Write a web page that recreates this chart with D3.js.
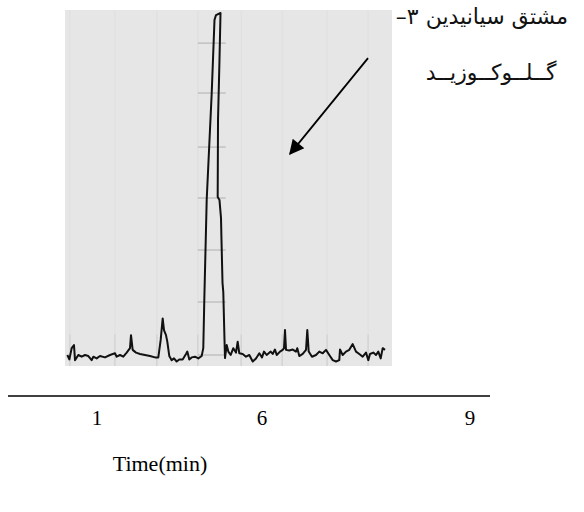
<!DOCTYPE html>
<html>
<head>
<meta charset="utf-8">
<script src="https://cdn.jsdelivr.net/npm/d3@7/dist/d3.min.js"></script>
<style>
  html, body { margin: 0; padding: 0; background: #fff; }
  svg { display: block; }
</style>
</head>
<body>
<svg id="chart" width="584" height="512"></svg>
<script>
// ---------------- data ----------------
// chromatogram trace: time (min) and relative signal (%)
const traceTime = [
  0.071,0.132,0.204,0.274,0.305,0.406,0.508,0.610,0.711,0.813,0.864,0.965,1.067,1.220,1.372,1.524,1.575,1.677,1.778,1.880,
  1.982,2.012,2.063,2.165,2.287,2.439,2.591,2.744,2.845,2.917,2.978,3.018,3.079,3.119,3.180,3.252,3.323,3.404,3.485,3.587,
  3.689,3.729,3.790,3.862,3.963,4.065,4.167,4.216,
  4.247,4.320,4.473,4.558,4.604,4.741,
  4.710,4.665,4.655,4.710,4.756,4.771,4.802,4.826,4.863,4.878,
  4.930,4.979,5.052,5.131,5.213,5.265,5.314,5.418,5.518,5.619,5.723,5.823,5.924,6.006,6.067,6.149,6.271,6.332,6.402,6.454,
  6.555,6.637,6.677,6.707,6.738,6.838,6.942,7.043,7.082,7.143,7.247,7.348,7.387,7.430,7.530,7.652,7.753,7.857,7.957,8.058,
  8.162,8.262,8.363,8.384,8.466,8.567,8.668,8.771,8.872,8.973,9.076,9.177,9.247,9.299,9.399,9.482,9.552,9.625,9.686,9.756
];
const traceSignal = [
  0,-1.3,2.0,2.9,-1.5,0,-0.5,0,-0.3,-1.5,-0.5,-1.0,-0.3,-0.7,0,0.5,-0.5,0,-0.5,0.7,
  2.0,5.8,1.5,0.7,0.3,0,-0.3,-0.7,-0.7,4.4,10.7,7.3,5.8,3.9,-0.3,-1.5,-1.0,-1.9,-1.3,-1.3,
  0.3,1.0,-1.3,-0.7,-0.5,-1.0,-0.3,2.0,
  16.1,45.3,76.6,98.0,99.4,100,
  86.3,68.7,46.2,45.3,40.1,33.6,21.1,18.4,4.4,-0.9,
  2.9,1.0,0,2.0,0.7,3.9,0.5,0.3,-0.5,0,-1.9,-1.0,0.5,-0.7,1.0,0,1.0,0.3,1.6,0,
  1.0,1.5,2.0,7.3,1.5,1.3,1.6,1.0,2.0,-0.3,0.3,1.5,7.3,1.0,-0.5,0,1.0,0.5,1.5,0,
  -1.5,-1.9,-1.5,1.6,0,1.0,1.5,3.2,1.0,0.3,-0.5,0.7,-1.5,0.3,0.7,0,1.0,-1.0,2.0,1.5
];
// chart-paper grid: vertical rulings (min) and crosshair levels (%)
const paperRulings = [0.15,1.52,2.80,4.05,5.37,6.62,7.99,9.24];
const crossLevels = [0,15.5,30.7,45.9,60.8,76.6,91.2];
// axis tick labels
const tickLabels = ["1","6","9"];
const tickValues = [1,6,9];
const axisTitle = "Time(min)";
// annotation
const annotLine1 = "مشتق سیانیدین ۳–";
const annotLine2 = "گــلــوکــوزیــد";
const arrowFrom = [9.238, 86.8];
const arrowTo = [6.860, 58.8];

// ---------------- drawing ----------------
const svg = d3.select("#chart");
const plot = {x0: 65, x1: 392, y0: 10, y1: 366};

const x = d3.scaleLinear().domain([0, 10]).range([plot.x0, plot.x0 + 328]);
const y = d3.scaleLinear().domain([0, 100]).range([355, 13]);

// background panel
svg.append("rect")
  .attr("x", plot.x0).attr("y", plot.y0)
  .attr("width", plot.x1 - plot.x0).attr("height", plot.y1 - plot.y0)
  .attr("fill", "#e6e6e6");

// faint vertical rulings
svg.append("g").selectAll("line").data(paperRulings).join("line")
  .attr("x1", d => x(d)).attr("x2", d => x(d))
  .attr("y1", plot.y0).attr("y2", plot.y1)
  .attr("stroke", "#e0e0e0").attr("stroke-width", 1.2);
svg.append("g").selectAll("line").data(paperRulings).join("line")
  .attr("x1", d => x(d)).attr("x2", d => x(d))
  .attr("y1", y(6)).attr("y2", plot.y1)
  .attr("stroke", "#d0d0d0").attr("stroke-width", 1.2);

// crosshair marks along the peak
svg.append("g").selectAll("line").data(crossLevels).join("line")
  .attr("x1", x(4.05)).attr("x2", x(4.9))
  .attr("y1", d => y(d)).attr("y2", d => y(d))
  .attr("stroke", "#b8b8b8").attr("stroke-width", 1.2);

// trace
const pts = traceTime.map((t, i) => [t, traceSignal[i]]);
const line = d3.line().x(d => x(d[0])).y(d => y(d[1])).curve(d3.curveLinear);
svg.append("path")
  .attr("d", line(pts))
  .attr("fill", "none")
  .attr("stroke", "#111")
  .attr("stroke-width", 2)
  .attr("stroke-linejoin", "round");

// arrow
const defs = svg.append("defs");
defs.append("marker")
  .attr("id", "ah").attr("viewBox", "0 0 10 10")
  .attr("refX", 9).attr("refY", 5)
  .attr("markerWidth", 20).attr("markerHeight", 15)
  .attr("markerUnits", "userSpaceOnUse")
  .attr("orient", "auto")
  .append("path").attr("d", "M0,0 L10,5 L0,10 Z").attr("fill", "#000");
svg.append("line")
  .attr("x1", x(arrowFrom[0])).attr("y1", y(arrowFrom[1]))
  .attr("x2", x(arrowTo[0])).attr("y2", y(arrowTo[1]))
  .attr("stroke", "#000").attr("stroke-width", 1.8)
  .attr("marker-end", "url(#ah)");

// annotation text, right-to-left, right edge aligned
const arFont = "'DejaVu Sans', sans-serif";
function rightText(s, xr, yb, size) {
  const g = svg.append("g");
  const t = g.append("text")
    .attr("x", 0).attr("y", yb)
    .attr("direction", "rtl")
    .style("direction", "rtl")
    .style("unicode-bidi", "embed")
    .attr("font-family", arFont).attr("font-size", size)
    .attr("fill", "#111")
    .text(s);
  const bb = t.node().getBBox();
  g.attr("transform", `translate(${xr - (bb.x + bb.width)},0)`);
}
rightText(annotLine1, 568, 24, 22);
rightText(annotLine2, 557, 80, 22);

// time axis (separate rule with labels)
const xt = d3.scaleLinear().domain([1, 6, 9]).range([97, 262, 470]);
svg.append("line")
  .attr("x1", 8).attr("x2", 490).attr("y1", 396).attr("y2", 396)
  .attr("stroke", "#000").attr("stroke-width", 1.6);
const serif = "'Liberation Serif', 'Times New Roman', serif";
svg.append("g").selectAll("text").data(tickValues).join("text")
  .attr("x", d => xt(d)).attr("y", 425)
  .attr("text-anchor", "middle")
  .attr("font-family", serif)
  .attr("font-size", 21)
  .text((d, i) => tickLabels[i]);
svg.append("text")
  .attr("x", 160).attr("y", 471)
  .attr("text-anchor", "middle")
  .attr("font-family", serif)
  .attr("font-size", 22)
  .text(axisTitle);
</script>
</body>
</html>
